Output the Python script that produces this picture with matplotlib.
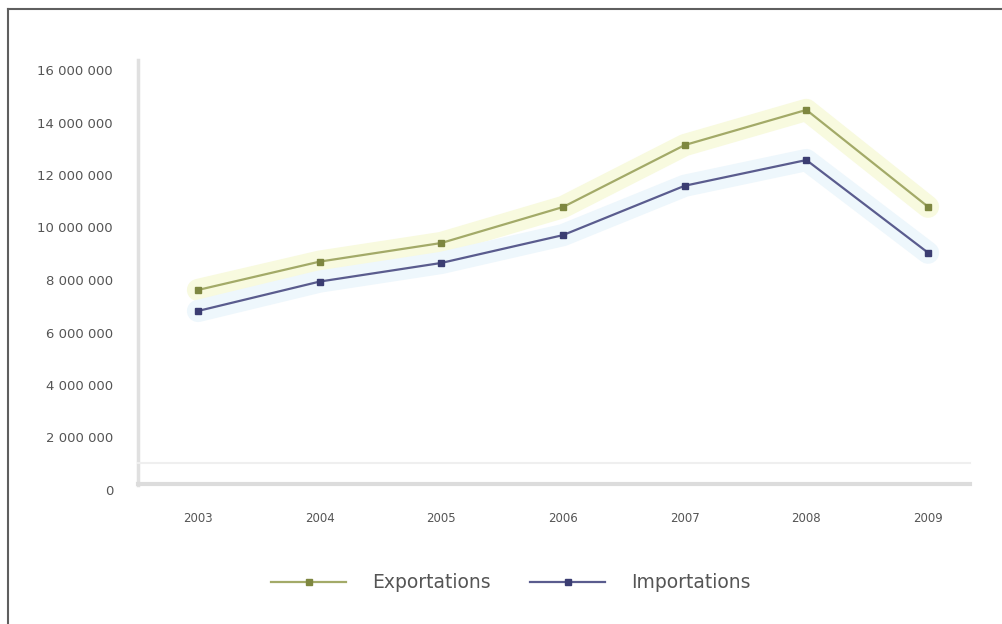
import matplotlib.pyplot as plt
from matplotlib.lines import Line2D

years = ["2003", "2004", "2005", "2006", "2007", "2008", "2009"]
exportations = [7620000, 8700000, 9410000, 10780000, 13140000, 14480000, 10790000]
importations = [6820000, 7940000, 8650000, 9710000, 11590000, 12570000, 9040000]
y_ticks = [0, 2000000, 4000000, 6000000, 8000000, 10000000, 12000000, 14000000, 16000000]
y_tick_labels = ["0", "2 000 000", "4 000 000", "6 000 000", "8 000 000",
                 "10 000 000", "12 000 000", "14 000 000", "16 000 000"]

W, H = 1002, 624
fig = plt.figure(figsize=(W / 100, H / 100), dpi=100)
fig.patch.set_facecolor("white")

# plot area in pixels: left 138, right 970, zero at y=490, top tick at y=70
ax = fig.add_axes([138 / W, (H - 490) / H, (970 - 138) / W, 420 / H])
ax.set_xlim(-0.493, 6.345)
ax.set_ylim(0, 16000000)
ax.patch.set_alpha(0)
for s in ax.spines.values():
    s.set_visible(False)

x = list(range(len(years)))

# faint halos behind the lines
ax.plot(x, exportations, color="#f8fadf", lw=16, solid_capstyle="round", zorder=1)
ax.plot(x, importations, color="#eef7fc", lw=16, solid_capstyle="round", zorder=1)

exp_col = "#a3aa68"
imp_col = "#5a5c8e"
ax.plot(x, exportations, color=exp_col, lw=1.6, marker="s", ms=5,
        mfc="#7e8740", mec="#7e8740", zorder=3, label="Exportations")
ax.plot(x, importations, color=imp_col, lw=1.6, marker="s", ms=5,
        mfc="#3b3d72", mec="#3b3d72", zorder=3, label="Importations")

ax.set_xticks(x)
ax.set_xticklabels(years, fontsize=8.5, color="#555555")
ax.set_yticks(y_ticks)
ax.set_yticklabels(y_tick_labels, fontsize=9.5, color="#555555")
ax.tick_params(length=0)
ax.tick_params(axis="x", pad=16)
ax.tick_params(axis="y", pad=18)

# wall and floor edges
ax.plot([0, 0], [0.012, 1.025], transform=ax.transAxes, color="#e0e0e0", lw=2.5, clip_on=False, zorder=0)
ax.plot([0, 1.0], [0.064, 0.064], transform=ax.transAxes, color="#efefef", lw=1.5, clip_on=False, zorder=0)
ax.plot([0, 1.0], [0.014, 0.014], transform=ax.transAxes, color="#dcdcdc", lw=3, clip_on=False, zorder=0)

# outer frame, only top and left are visible
fig.add_artist(Line2D([8 / W, 8 / W], [0, 1 - 9 / H], color="#5f5f5f", lw=1.5))
fig.add_artist(Line2D([8 / W, 1], [1 - 9 / H, 1 - 9 / H], color="#5f5f5f", lw=1.5))

leg = fig.legend(loc="center", bbox_to_anchor=(511 / W, 1 - 583 / H), ncol=2,
                 frameon=False, fontsize=13.5, handlelength=4.0, handletextpad=1.4,
                 columnspacing=2.1)
for t in leg.get_texts():
    t.set_color("#555555")

fig.savefig("out.png", dpi=100)
